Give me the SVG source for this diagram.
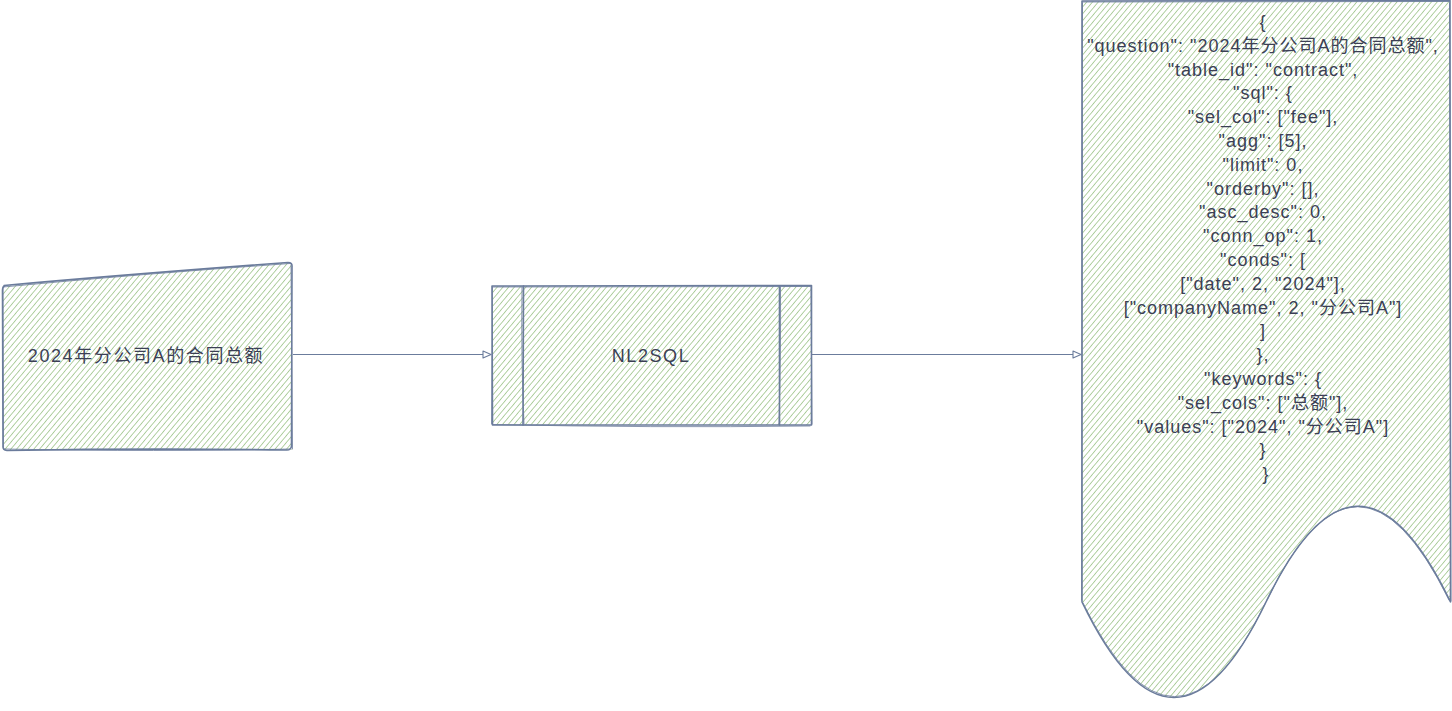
<svg xmlns="http://www.w3.org/2000/svg" width="1452" height="711" viewBox="0 0 1452 711">
  <defs>
    <!-- diagonal hachure fill -->
    <pattern id="hatch" patternUnits="userSpaceOnUse" width="12" height="4.4" patternTransform="rotate(-50)">
      <rect width="12" height="4.4" fill="#ffffff"/>
      <line x1="0" y1="2.2" x2="12" y2="2.2" stroke="#a9cb98" stroke-width="0.9"/>
    </pattern>
    <marker id="openArrow" viewBox="0 0 10 10" refX="9" refY="5" markerWidth="10" markerHeight="10" markerUnits="userSpaceOnUse" orient="auto">
      <path d="M1,1.5 L9,5 L1,8.5 Z" fill="#ffffff" stroke="#6b7c9c" stroke-width="1.1" stroke-linejoin="round"/>
    </marker>
  </defs>
  <style>
    .fill { fill: url(#hatch); stroke: none; }
    .edge { fill: none; stroke: #6b7c9c; stroke-width: 1.6; stroke-linejoin: round; stroke-linecap: round; }
    .edge2 { fill: none; stroke: #6b7c9c; stroke-width: 1; stroke-linejoin: round; stroke-linecap: round; opacity: 0.8; }
    .label { font-family: "Liberation Sans", "Noto Sans CJK SC", sans-serif; font-size: 18px; letter-spacing: 1px; fill: #3b3f55; text-anchor: middle; }
    .wide { letter-spacing: 1.6px; }
    .conn { fill: none; stroke: #6b7c9c; stroke-width: 1.1; }
  </style>

  <g id="connectors">
    <path class="conn" d="M293,354.5 L491,354.5" marker-end="url(#openArrow)"/>
    <path class="conn" d="M812,354.5 L1081,354.5" marker-end="url(#openArrow)"/>
  </g>

  <!-- manual input: question -->
  <g id="node-question">
    <path class="fill" d="M3,286 L291,262 L292,450 L3,450 Z"/>
    <path class="edge" d="M4,285.5 Q120,275 288,262.5 Q292.5,262.5 292,267 L291.5,446 Q291,450.5 286,450 Q150,448 7,450.5 Q2.5,450 3,446 L2.5,290 Q2.5,286 6,285.5"/>
    <path class="edge2" d="M3,287 Q140,274 290,263.5 M291,265 L292.5,449 M290,449 Q160,452 4,449 M3.5,448 L3,288"/>
    <text class="label wide" x="146" y="362">2024年分公司A的合同总额</text>
  </g>

  <!-- predefined process: NL2SQL -->
  <g id="node-nl2sql">
    <rect class="fill" x="492" y="286" width="319.5" height="139"/>
    <path class="edge" d="M492,286 L811.5,285.5 L811.5,425 L492.5,425 Z"/>
    <path class="edge2" d="M493,287 L810.5,286.5 M811,287 L812,424 M810,426 Q650,428 493,424.5 M491.5,424 L492.5,287"/>
    <path class="edge" d="M523.5,286 L523,425"/>
    <path class="edge2" d="M522,287 Q521,360 524,424"/>
    <path class="edge" d="M779.5,286 L779.5,425"/>
    <path class="edge2" d="M780.5,287 Q781,350 779,424"/>
    <text class="label wide" x="651" y="362">NL2SQL</text>
  </g>

  <!-- document: result JSON -->
  <g id="node-result">
    <path class="fill" d="M1082,1 L1450,1 L1450,602 Q1358,410.6 1266,602 Q1174,793 1082,602 Z"/>
    <path class="edge" d="M1082,1 L1450,0.5 L1450.5,602 Q1358,410.6 1266,602 Q1174,793 1082,602 Z"/>
    <path class="edge2" d="M1083,2 L1449,1.5 M1449.5,3 L1451,601 M1449,600 Q1357,413 1267,600 M1265,604 Q1175,790 1083,603 M1081.5,600 L1082.5,3"/>
    <text class="label">
      <tspan x="1266" y="28">{</tspan>
      <tspan x="1266" y="51.8">"question": "2024年分公司A的合同总额",</tspan>
      <tspan x="1266" y="75.6">"table_id": "contract",</tspan>
      <tspan x="1266" y="99.4">"sql": {</tspan>
      <tspan x="1266" y="123.2">"sel_col": ["fee"],</tspan>
      <tspan x="1266" y="147">"agg": [5],</tspan>
      <tspan x="1266" y="170.8">"limit": 0,</tspan>
      <tspan x="1266" y="194.6">"orderby": [],</tspan>
      <tspan x="1266" y="218.4">"asc_desc": 0,</tspan>
      <tspan x="1266" y="242.2">"conn_op": 1,</tspan>
      <tspan x="1266" y="266">"conds": [</tspan>
      <tspan x="1266" y="289.8">["date", 2, "2024"],</tspan>
      <tspan x="1266" y="313.6">["companyName", 2, "分公司A"]</tspan>
      <tspan x="1266" y="337.4">]</tspan>
      <tspan x="1266" y="361.2">},</tspan>
      <tspan x="1266" y="385">"keywords": {</tspan>
      <tspan x="1266" y="408.8">"sel_cols": ["总额"],</tspan>
      <tspan x="1266" y="432.6">"values": ["2024", "分公司A"]</tspan>
      <tspan x="1266" y="456.4">}</tspan>
      <tspan x="1266" y="480.2">}</tspan>
    </text>
  </g>
</svg>
